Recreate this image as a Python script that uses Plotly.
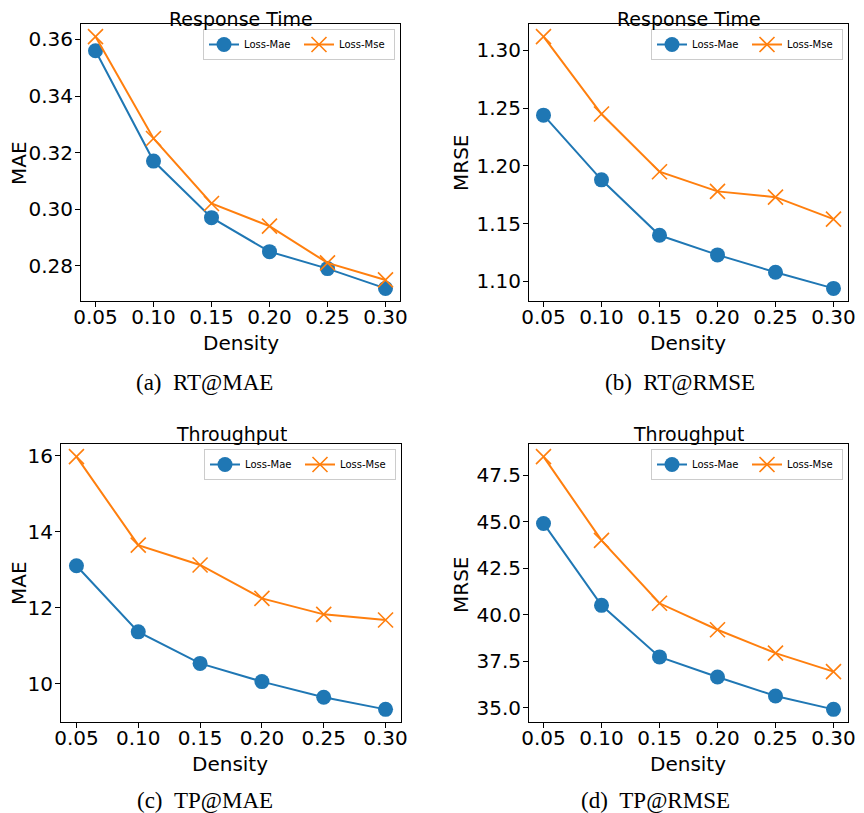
import plotly.graph_objects as go

density = [0.05, 0.10, 0.15, 0.20, 0.25, 0.30]
x_ticks = [0.05, 0.10, 0.15, 0.20, 0.25, 0.30]

rt_mae_lossmae = [0.356, 0.317, 0.297, 0.285, 0.279, 0.272]
rt_mae_lossmse = [0.361, 0.325, 0.302, 0.294, 0.281, 0.275]

rt_rmse_lossmae = [1.244, 1.188, 1.140, 1.123, 1.108, 1.094]
rt_rmse_lossmse = [1.312, 1.245, 1.195, 1.178, 1.173, 1.154]

tp_mae_lossmae = [13.10, 11.36, 10.53, 10.05, 9.64, 9.32]
tp_mae_lossmse = [15.97, 13.64, 13.12, 12.24, 11.82, 11.67]

tp_rmse_lossmae = [44.9, 40.5, 37.73, 36.65, 35.63, 34.91]
tp_rmse_lossmse = [48.49, 43.99, 40.61, 39.19, 37.93, 36.94]

panel_titles = ["Response Time", "Response Time", "Throughput", "Throughput"]
x_title = "Density"
y_titles = ["MAE", "MRSE", "MAE", "MRSE"]
captions = ["(a)\u00a0\u00a0RT@MAE", "(b)\u00a0\u00a0RT@RMSE", "(c)\u00a0\u00a0TP@MAE", "(d)\u00a0\u00a0TP@RMSE"]
y_tickvals = [
    [0.28, 0.30, 0.32, 0.34, 0.36],
    [1.10, 1.15, 1.20, 1.25, 1.30],
    [10, 12, 14, 16],
    [35.0, 37.5, 40.0, 42.5, 45.0, 47.5],
]
y_tickformat = [".2f", ".2f", "d", ".1f"]
series = [
    (rt_mae_lossmae, rt_mae_lossmse),
    (rt_rmse_lossmae, rt_rmse_lossmse),
    (tp_mae_lossmae, tp_mae_lossmse),
    (tp_rmse_lossmae, tp_rmse_lossmse),
]

# page has an 8px body margin; figure sized so it fits the 864x813 window
OFF = 8
W, H = 864 - OFF, 813 - OFF
# axis boxes in window pixels: (left, right, top, bottom)
boxes = [
    (81, 400, 24, 301),
    (529, 848, 24, 301),
    (61, 401, 444, 722),
    (529, 848, 444, 722),
]
title_centers = [19, 19, 434, 434]
ytitle_pos = [(19, 163), (461, 163), (19, 583), (461, 585)]
xtitle_pos = [(241, 343), (688, 343), (230, 764), (688, 764)]
caption_centers = [(204, 382), (680, 382), (205, 800), (655, 800)]


def px(xp):
    return (xp - OFF) / W


def py(yp):
    return 1 - (yp - OFF) / H


BLUE = "#1f77b4"
ORANGE = "#ff7f0e"
FONT = "DejaVu Sans"

fig = go.Figure()
layout = dict(
    width=W, height=H,
    margin=dict(l=0, r=0, t=0, b=0, autoexpand=False),
    paper_bgcolor="white", plot_bgcolor="white",
    font=dict(family=FONT, color="black", size=20),
    annotations=[],
)


def note(text, x, y, size, family=FONT, angle=0, height=None):
    ann = dict(
        text=text, x=px(x), y=py(y), xref="paper", yref="paper",
        xanchor="center", yanchor="middle", showarrow=False, textangle=angle,
        font=dict(size=size, family=family, color="black"),
    )
    if height is not None:
        ann["height"] = height
        ann["valign"] = "middle"
        ann["borderpad"] = 0
    layout["annotations"].append(ann)


for i in range(4):
    n = "" if i == 0 else str(i + 1)
    l, r, t, b = boxes[i]
    mae, mse = series[i]
    legname = "legend" + n
    fig.add_trace(go.Scatter(
        x=density, y=mae, mode="lines+markers", name="Loss-Mae",
        line=dict(color=BLUE, width=2),
        marker=dict(symbol="circle", size=15, color=BLUE),
        xaxis="x" + n, yaxis="y" + n, legend=legname,
    ))
    fig.add_trace(go.Scatter(
        x=density, y=mse, mode="lines+markers", name="Loss-Mse",
        line=dict(color=ORANGE, width=2),
        marker=dict(symbol="x-thin", size=15, color=ORANGE,
                    line=dict(color=ORANGE, width=1.6)),
        xaxis="x" + n, yaxis="y" + n, legend=legname,
    ))
    allv = mae + mse
    lo, hi = min(allv), max(allv)
    pad = (hi - lo) * 0.05
    layout["xaxis" + n] = dict(
        domain=[px(l), px(r)], anchor="y" + n, range=[0.0375, 0.3125],
        tickvals=x_ticks, tickformat=".2f", automargin=False,
        showline=True, mirror=True, linecolor="black", linewidth=1,
        ticks="outside", ticklen=5, tickcolor="black", ticklabelstandoff=-7,
        showgrid=False, zeroline=False, tickfont=dict(size=20),
    )
    layout["yaxis" + n] = dict(
        domain=[py(b), py(t)], anchor="x" + n, range=[lo - pad, hi + pad],
        tickvals=y_tickvals[i], tickformat=y_tickformat[i], automargin=False,
        showline=True, mirror=True, linecolor="black", linewidth=1,
        ticks="outside", ticklen=5, tickcolor="black", ticklabelstandoff=-2,
        showgrid=False, zeroline=False, tickfont=dict(size=20),
    )
    layout[legname] = dict(
        x=px(r - 5), y=py(t + 5), xanchor="right", yanchor="top",
        orientation="h", bgcolor="white", bordercolor="#cccccc", borderwidth=1,
        font=dict(size=10, family=FONT), entrywidth=50, entrywidthmode="pixels",
        itemsizing="trace", tracegroupgap=0,
    )
    note(panel_titles[i], (l + r) / 2, title_centers[i], 19, height=22)
    note(y_titles[i], ytitle_pos[i][0], ytitle_pos[i][1], 20, angle=-90, height=22)
    note(x_title, xtitle_pos[i][0], xtitle_pos[i][1], 20)
    note(captions[i], caption_centers[i][0], caption_centers[i][1], 23, family="Liberation Serif")

fig.update_layout(**layout)
fig.write_html("out.html")
